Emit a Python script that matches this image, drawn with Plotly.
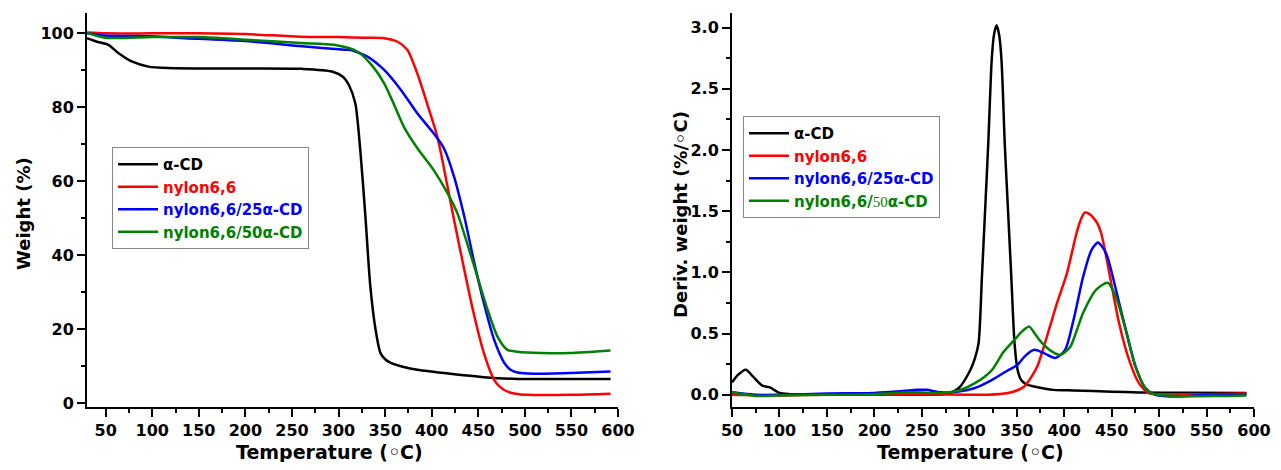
import plotly.graph_objects as go

# ---------------- TGA data (left panel) ----------------
tga_T_acd = [30, 40, 53, 64, 78, 96, 117, 150, 200, 261, 293, 305, 311, 318, 323.5, 329, 334, 339.7, 345, 350, 356, 370, 384.5, 420, 456, 492, 540, 592]
tga_W_acd = [98.7, 97.8, 96.9, 94.6, 92.4, 91.0, 90.6, 90.5, 90.5, 90.4, 89.7, 88.2, 86.1, 81.1, 68.0, 50.0, 32.0, 20.0, 13.6, 11.9, 10.9, 9.8, 9.05, 7.97, 7.07, 6.6, 6.6, 6.6]

tga_T_ny = [30, 50, 100, 150, 200, 259, 300, 330, 349, 363, 374, 384.5, 395, 406, 417, 424, 435, 445, 456, 467, 474, 481, 490, 503, 550, 592]
tga_W_ny = [100.2, 100, 100, 100, 99.8, 99.1, 99.0, 98.8, 98.7, 97.8, 95.5, 89.2, 81.1, 72.1, 58.6, 49.6, 36.1, 24.4, 13.6, 6.35, 4.3, 3.2, 2.6, 2.3, 2.3, 2.6]

tga_T_25 = [30, 48, 100, 135, 207, 261, 307, 313, 331, 349, 367, 384.5, 402, 413, 424, 435, 445, 456, 467, 478, 485, 492, 510, 550, 592]
tga_W_25 = [100, 99.4, 99.2, 98.7, 97.8, 96.5, 95.6, 95.5, 93.7, 90.1, 84.7, 78.4, 73.0, 69.0, 61.3, 50.5, 38.8, 27.1, 17.2, 10.9, 9.0, 8.3, 8.0, 8.2, 8.6]

tga_T_50 = [30, 50, 100, 150, 200, 259, 295, 320, 334, 349, 359, 370, 384.5, 402, 417, 427.5, 438, 449, 460, 470.5, 481, 490, 503, 548, 592]
tga_W_50 = [100.2, 98.8, 99.0, 99.0, 98.3, 97.4, 96.9, 95.1, 91.9, 86.5, 81.1, 74.8, 69.0, 63.1, 56.8, 51.4, 43.3, 34.3, 25.3, 18.1, 14.5, 14.0, 13.7, 13.6, 14.3]

# ---------------- DTG data (right panel) ----------------
dtg_T_acd = [50, 56, 64.5, 72, 82, 90, 100, 110, 150, 200, 250, 275, 289, 301, 306, 309.8, 313.3, 316.7, 320, 323.6, 326, 328.8, 331.5, 334, 337.4, 340.8, 344.3, 347.7, 351, 354.7, 360, 368.4, 389, 410, 450, 479, 530, 592]
dtg_D_acd = [0.10, 0.16, 0.205, 0.15, 0.075, 0.06, 0.015, 0.005, 0.0, 0.0, 0.0, 0.005, 0.055, 0.20, 0.30, 0.42, 0.96, 1.51, 2.05, 2.73, 2.94, 3.02, 2.94, 2.73, 2.05, 1.51, 0.96, 0.42, 0.20, 0.12, 0.085, 0.068, 0.04, 0.035, 0.025, 0.019, 0.016, 0.015]

dtg_T_ny = [50, 100, 150, 200, 250, 300, 320, 340.8, 350, 358, 365, 371.6, 382, 392.5, 402.8, 413, 418, 421.8, 426, 430.4, 435, 439, 443, 447.7, 458, 468.4, 478.7, 489, 500, 550, 592]
dtg_D_ny = [0.0, -0.005, 0.0, 0.0, 0.005, 0.0, 0.0, 0.014, 0.035, 0.068, 0.14, 0.23, 0.48, 0.75, 0.99, 1.32, 1.44, 1.49, 1.48, 1.45, 1.40, 1.32, 1.18, 0.99, 0.58, 0.285, 0.095, 0.014, 0.005, 0.005, 0.01]

dtg_T_25 = [50, 75, 100, 150, 200, 230, 245, 255, 270, 289, 306, 323.6, 340.8, 351, 358, 368.4, 378.7, 390.8, 401, 409.8, 420, 428.6, 435.6, 444.2, 454.5, 464.9, 475.2, 485.5, 496, 520, 550, 592]
dtg_D_25 = [0.02, 0.0, 0.0, 0.01, 0.015, 0.03, 0.04, 0.04, 0.02, 0.027, 0.055, 0.12, 0.20, 0.245, 0.31, 0.367, 0.34, 0.30, 0.367, 0.61, 0.965, 1.18, 1.245, 1.155, 0.86, 0.53, 0.23, 0.055, 0.0, -0.014, 0.0, 0.0]

dtg_T_50 = [50, 75, 100, 150, 200, 240, 270, 289, 306, 323.6, 336, 347.7, 356, 363.2, 369, 375.3, 387.3, 396, 406.3, 413, 420, 433.8, 445.9, 454.5, 464.9, 475.2, 485.5, 494, 520, 560, 592]
dtg_D_50 = [0.02, -0.01, -0.005, 0.0, 0.005, 0.02, 0.015, 0.035, 0.095, 0.20, 0.35, 0.45, 0.52, 0.557, 0.50, 0.435, 0.353, 0.326, 0.39, 0.52, 0.67, 0.86, 0.915, 0.80, 0.53, 0.23, 0.055, 0.005, -0.01, -0.01, -0.005]

series_labels = ["α-CD", "nylon6,6", "nylon6,6/25α-CD", "nylon6,6/50α-CD"]
series_colors = ["#000000", "#ff0000", "#0000ff", "#008000"]

x_ticks = [50, 100, 150, 200, 250, 300, 350, 400, 450, 500, 550, 600]
y_ticks_left = [0, 20, 40, 60, 80, 100]
y_ticks_right = [0.0, 0.5, 1.0, 1.5, 2.0, 2.5, 3.0]

x_title = "Temperature (◦C)"
y_title_left = "Weight (%)"
y_title_right = "Deriv. weight (%/◦C)"

FONT = "DejaVu Sans, Liberation Sans, Arial, sans-serif"

def lab(txt, color, serif50=False):
    if serif50:
        txt = txt.replace("50", "<span style='font-family:Liberation Serif;font-weight:normal'>50</span>")
    return f"<span style='color:{color}'>{txt}</span>"

fig = go.Figure()

tga = [(tga_T_acd, tga_W_acd), (tga_T_ny, tga_W_ny), (tga_T_25, tga_W_25), (tga_T_50, tga_W_50)]
dtg = [(dtg_T_acd, dtg_D_acd), (dtg_T_ny, dtg_D_ny), (dtg_T_25, dtg_D_25), (dtg_T_50, dtg_D_50)]

for i, (x, y) in enumerate(tga):
    fig.add_trace(go.Scatter(x=x, y=y, mode="lines", xaxis="x", yaxis="y",
                             name=lab(series_labels[i], series_colors[i]),
                             line=dict(color=series_colors[i], width=2.5, shape="spline", smoothing=0.7),
                             legend="legend"))
for i, (x, y) in enumerate(dtg):
    fig.add_trace(go.Scatter(x=x, y=y, mode="lines", xaxis="x2", yaxis="y2",
                             name=lab(series_labels[i], series_colors[i], serif50=(i == 3)),
                             line=dict(color=series_colors[i], width=2.5, shape="spline", smoothing=0.7),
                             legend="legend2"))

# page body has an 8px margin: figure is drawn at (8, 8) of the window
OFF = 8
W, H = 1273, 454
def px(v):
    return (v - OFF) / W
def py(v):
    return 1 - (v - OFF) / H

tickfont = dict(family=FONT, size=16, color="black", weight="bold")
xtitlefont = dict(family=FONT, size=19, color="black", weight="bold")
ytitlefont = dict(family=FONT, size=18, color="black", weight="bold")

axis_common = dict(showline=True, linecolor="black", linewidth=2, mirror=False,
                   ticks="outside", ticklen=8, tickwidth=2, tickcolor="black",
                   showgrid=False, zeroline=False, tickfont=tickfont, automargin=False)
minor_common = dict(ticks="outside", ticklen=4, tickwidth=2, tickcolor="black", showgrid=False)

legend_common = dict(bgcolor="white", bordercolor="#888888", borderwidth=1,
                     font=dict(family=FONT, size=15, color="black", weight="bold"),
                     xanchor="left", yanchor="top", tracegroupgap=0, itemwidth=40,
                     traceorder="normal")

annotations = [
    dict(text=x_title, xref="paper", yref="paper", x=px(329), y=py(452),
         showarrow=False, font=xtitlefont, xanchor="center", yanchor="middle"),
    dict(text=x_title, xref="paper", yref="paper", x=px(970), y=py(452),
         showarrow=False, font=xtitlefont, xanchor="center", yanchor="middle"),
    dict(text=y_title_left, xref="paper", yref="paper", x=px(23), y=py(214),
         showarrow=False, font=ytitlefont, xanchor="center", yanchor="middle", textangle=-90),
    dict(text=y_title_right, xref="paper", yref="paper", x=px(680), y=py(215),
         showarrow=False, font=ytitlefont, xanchor="center", yanchor="middle", textangle=-90),
]

fig.update_layout(
    width=W, height=H,
    margin=dict(l=0, r=0, t=0, b=0, autoexpand=False),
    paper_bgcolor="white", plot_bgcolor="white",
    xaxis=dict(domain=[px(87), px(618)], range=[30, 600], anchor="y",
               tickvals=x_ticks, minor=dict(dtick=25, tick0=0, **minor_common),
               **axis_common),
    yaxis=dict(domain=[py(407), py(13)], range=[-1, 105.5], anchor="x",
               tickvals=y_ticks_left, minor=dict(dtick=10, tick0=0, **minor_common),
               **axis_common),
    xaxis2=dict(domain=[px(732), px(1254)], range=[50, 600], anchor="y2",
                tickvals=x_ticks, minor=dict(dtick=25, tick0=0, **minor_common),
                **axis_common),
    yaxis2=dict(domain=[py(407), py(13)], range=[-0.1, 3.12], anchor="x2",
                tickvals=y_ticks_right, tickformat=".1f",
                minor=dict(dtick=0.25, tick0=0, **minor_common),
                **axis_common),
    legend=dict(x=px(112), y=py(147), **legend_common),
    legend2=dict(x=px(743), y=py(116), **legend_common),
    annotations=annotations,
    showlegend=True,
)

fig.write_html("out.html")
